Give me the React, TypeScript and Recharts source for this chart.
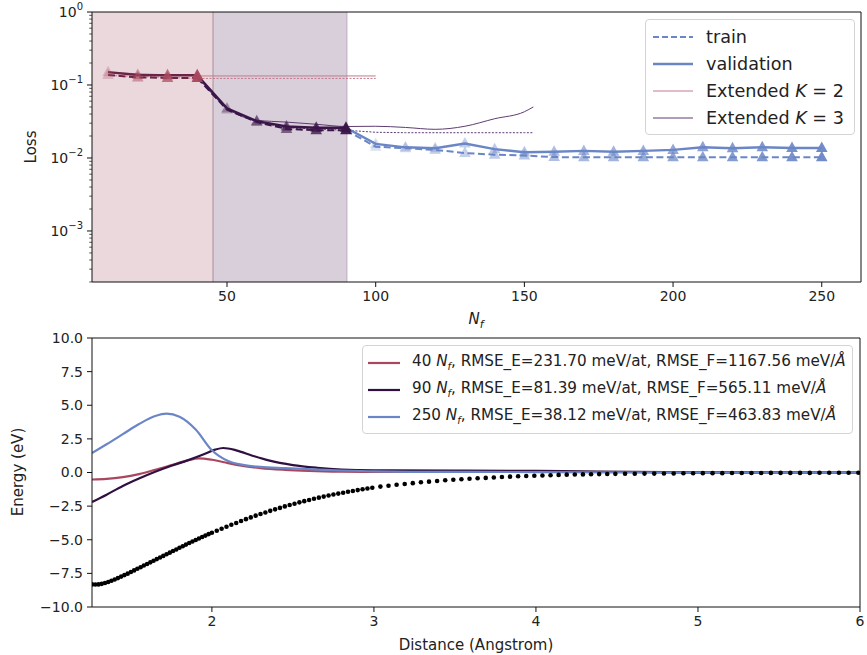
import { ComposedChart, Line, Scatter, XAxis, YAxis, ReferenceArea, ReferenceLine } from 'recharts'

const FONT = '"DejaVu Sans", Verdana, sans-serif'

// ---- top panel: loss vs N_f ----
const nfSeg1 = [10, 20, 30, 40]
const valSeg1 = [0.150, 0.137, 0.136, 0.136]
const trainSeg1 = [0.137, 0.127, 0.125, 0.125]

const nfSeg2 = [40, 50, 60, 70, 80, 90]
const valSeg2 = [0.136, 0.048, 0.032, 0.027, 0.026, 0.026]
const trainSeg2 = [0.125, 0.046, 0.031, 0.025, 0.024, 0.024]

const nfSeg3 = [90, 100, 110, 120, 130, 140, 150, 160, 170, 180, 190, 200, 210, 220, 230, 240, 250]
const valSeg3 = [0.026, 0.0156, 0.0140, 0.0136, 0.0158, 0.0132, 0.0120, 0.0122, 0.0125, 0.0122, 0.0125, 0.0129, 0.0140, 0.0136, 0.0140, 0.0137, 0.0137]
const trainSeg3 = [0.024, 0.0143, 0.0136, 0.0129, 0.0117, 0.0111, 0.0108, 0.0103, 0.0102, 0.0102, 0.0102, 0.0102, 0.0102, 0.0102, 0.0102, 0.0102, 0.0102]

const nfExt2 = [10, 40, 100]
const valExt2 = [0.148, 0.133, 0.133]
const trainExt2 = [0.135, 0.123, 0.123]

const nfExt3 = [40, 50, 60, 70, 80, 90, 100, 110, 120, 130, 140, 150, 153]
const valExt3 = [0.136, 0.048, 0.033, 0.031, 0.029, 0.027, 0.0272, 0.0262, 0.0247, 0.0272, 0.0345, 0.0430, 0.050]
const trainExt3 = [0.125, 0.046, 0.031, 0.026, 0.025, 0.024, 0.0225, 0.0222, 0.0222, 0.0222, 0.0222, 0.0222, 0.0222]

const nfTicks = [50, 100, 150, 200, 250]
const lossTicks = [
  0.0002, 0.0003, 0.0004, 0.0005, 0.0006, 0.0007, 0.0008, 0.0009,
  0.001, 0.002, 0.003, 0.004, 0.005, 0.006, 0.007, 0.008, 0.009,
  0.01, 0.02, 0.03, 0.04, 0.05, 0.06, 0.07, 0.08, 0.09,
  0.1, 0.2, 0.3, 0.4, 0.5, 0.6, 0.7, 0.8, 0.9, 1,
]

// ---- bottom panel: energy vs distance ----
const refDist = [
  1.26, 1.28, 1.30, 1.32, 1.34, 1.36, 1.38, 1.40, 1.42, 1.44, 1.46, 1.48, 1.50, 1.52, 1.54, 1.56, 1.58, 1.60,
  1.62, 1.64, 1.66, 1.68, 1.70, 1.72, 1.74, 1.76, 1.78, 1.80, 1.82, 1.84, 1.86, 1.88, 1.90, 1.92, 1.94, 1.96,
  1.98, 2.00, 2.03, 2.06, 2.09, 2.12, 2.15, 2.18, 2.21, 2.24, 2.27, 2.30, 2.33, 2.36, 2.39, 2.42, 2.45, 2.48,
  2.51, 2.54, 2.57, 2.60, 2.63, 2.66, 2.69, 2.72, 2.75, 2.78, 2.81, 2.84, 2.87, 2.90, 2.93, 2.96, 2.99, 3.04,
  3.09, 3.14, 3.19, 3.24, 3.29, 3.34, 3.39, 3.44, 3.49, 3.54, 3.59, 3.64, 3.69, 3.74, 3.79, 3.84, 3.89, 3.94,
  3.99, 4.04, 4.09, 4.14, 4.19, 4.24, 4.29, 4.34, 4.39, 4.44, 4.49, 4.55, 4.61, 4.67, 4.73, 4.79, 4.85, 4.91,
  4.97, 5.03, 5.09, 5.15, 5.21, 5.27, 5.33, 5.39, 5.45, 5.51, 5.57, 5.63, 5.69, 5.75, 5.81, 5.87, 5.93, 5.99,
]
const refEnergy = [
  -8.32, -8.33, -8.32, -8.28, -8.22, -8.14, -8.05, -7.95, -7.85, -7.74, -7.63, -7.52, -7.40, -7.28, -7.16, -7.04, -6.92, -6.80,
  -6.68, -6.56, -6.44, -6.32, -6.20, -6.08, -5.96, -5.84, -5.72, -5.60, -5.48, -5.36, -5.24, -5.13, -5.02, -4.91, -4.80, -4.69,
  -4.58, -4.48, -4.33, -4.18, -4.03, -3.89, -3.75, -3.61, -3.47, -3.34, -3.21, -3.09, -2.97, -2.85, -2.74, -2.63, -2.52, -2.42,
  -2.32, -2.22, -2.13, -2.04, -1.95, -1.87, -1.79, -1.71, -1.64, -1.57, -1.50, -1.43, -1.37, -1.31, -1.25, -1.19, -1.13, -1.05,
  -0.98, -0.91, -0.85, -0.79, -0.73, -0.68, -0.63, -0.58, -0.54, -0.50, -0.46, -0.43, -0.40, -0.37, -0.34, -0.31, -0.28, -0.26,
  -0.24, -0.22, -0.20, -0.18, -0.16, -0.15, -0.14, -0.13, -0.12, -0.11, -0.10, -0.09, -0.09, -0.08, -0.08, -0.07, -0.07, -0.06,
  -0.06, -0.05, -0.05, -0.05, -0.04, -0.04, -0.04, -0.04, -0.03, -0.03, -0.03, -0.03, -0.03, -0.02, -0.02, -0.02, -0.02, -0.02,
]

const dist40 = [1.26, 1.35, 1.45, 1.55, 1.65, 1.75, 1.85, 1.92, 2.0, 2.1, 2.2, 2.3, 2.45, 2.6, 2.8, 3.0, 3.5, 4.0, 4.5, 5.0, 6.0]
const energy40 = [-0.52, -0.48, -0.35, -0.12, 0.2, 0.55, 0.9, 1.05, 0.95, 0.7, 0.48, 0.33, 0.2, 0.12, 0.06, 0.04, 0.05, 0.04, 0.02, 0.0, 0.0]

const dist90 = [1.26, 1.35, 1.45, 1.55, 1.65, 1.75, 1.85, 1.95, 2.02, 2.07, 2.15, 2.25, 2.35, 2.5, 2.65, 2.8, 3.0, 3.5, 4.0, 4.4, 5.0, 6.0]
const energy90 = [-2.2, -1.65, -1.0, -0.45, 0.05, 0.5, 0.9, 1.35, 1.7, 1.82, 1.65, 1.25, 0.9, 0.55, 0.35, 0.22, 0.16, 0.15, 0.12, 0.06, 0.01, 0.0]

const dist250 = [1.26, 1.35, 1.45, 1.55, 1.65, 1.72, 1.8, 1.9, 2.0, 2.1, 2.2, 2.3, 2.45, 2.6, 2.8, 3.0, 3.3, 3.6, 4.0, 4.4, 5.0, 6.0]
const energy250 = [1.45, 2.1, 2.85, 3.6, 4.2, 4.38, 4.15, 3.2, 1.65, 0.85, 0.55, 0.42, 0.33, 0.25, 0.15, 0.08, 0.05, 0.05, 0.03, 0.02, 0.0, 0.0]

const distTicks = [2, 3, 4, 5, 6]
const energyTicks = [-10, -7.5, -5, -2.5, 0, 2.5, 5, 7.5, 10]

const legendRows = [
  { n: '40', e: '231.70', f: '1167.56' },
  { n: '90', e: '81.39', f: '565.11' },
  { n: '250', e: '38.12', f: '463.83' },
]

const RED = '#a8475e'
const DARK = '#2f1040'
const BLUE = '#6a86c6'
const SEG1_LINE = '#6b2446'
const SEG2_LINE = '#3a1548'

const rows = (xs: number[], ys: number[], kx: string, ky: string) =>
  xs.map((x, i) => ({ [kx]: x, [ky]: ys[i] }))

const triangle = (color: string, n: number, skipFirst: boolean) => (p: any) => {
  const { cx, cy, index } = p
  if ((skipFirst && index === 0) || cx == null) return <g key={index} />
  const start = skipFirst ? 1 : 0
  const t = n - 1 > start ? (index - start) / (n - 1 - start) : 1
  return (
    <path key={index} d={`M${cx},${cy - 6.5}L${cx + 5.8},${cy + 4}L${cx - 5.8},${cy + 4}Z`}
      fill={color} fillOpacity={0.25 + 0.7 * t} stroke="none" />
  )
}

const LogTick = ({ x, y, payload }: any) => {
  const v = payload.value
  const lg = Math.log10(v)
  const exp = Math.round(lg)
  const major = Math.abs(lg - exp) < 1e-6
  return (
    <g>
      <line x1={x} x2={x - (major ? 5 : 2.8)} y1={y} y2={y} stroke="#111" strokeWidth={major ? 1 : 0.7} />
      {major && (
        <text x={x - 9} y={y + 5} textAnchor="end" fontSize={14} fill="#222" fontFamily={FONT}>
          10<tspan dy={-7} fontSize={10}>{exp === 0 ? '0' : '\u2212' + Math.abs(exp)}</tspan>
        </text>
      )}
    </g>
  )
}

const fmtEnergy = (v: number) => (v < 0 ? '\u2212' : '') + Math.abs(v).toFixed(1)

const tickStyle = { fontSize: 14, fill: '#222', fontFamily: FONT }

const LineKey = ({ color, dash, width }: { color: string; dash?: string; width: number }) => (
  <svg width={40} height={10} style={{ display: 'block' }}>
    <line x1={0} x2={40} y1={5} y2={5} stroke={color} strokeWidth={width} strokeDasharray={dash} />
  </svg>
)

function TopPanel() {
  return (
    <div style={{ position: 'absolute', left: 0, top: 0, width: 867, height: 336 }}>
      <ComposedChart width={867} height={336} margin={{ top: 12, right: 6, left: 0, bottom: 0 }}>
        <XAxis type="number" dataKey="n" domain={[4.6, 263.2]} ticks={nfTicks} allowDataOverflow
          height={54} stroke="#111" tickSize={5} tick={tickStyle} tickMargin={4} interval={0} />
        <YAxis type="number" dataKey="v" scale="log" domain={[0.0002, 1]} ticks={lossTicks} allowDataOverflow
          width={92} stroke="#111" tickSize={0} tickMargin={0} tickLine={false} tick={<LogTick />} interval={0} />

        <ReferenceArea x1={4.6} x2={45.3} fill="#ebd8dd" fillOpacity={1} stroke="none" />
        <ReferenceArea x1={45.3} x2={90.3} fill="#d8cfda" fillOpacity={1} stroke="none" />
        <ReferenceLine x={45.3} stroke="#b497a8" strokeWidth={1.2} />
        <ReferenceLine x={90.3} stroke="#c2b3c6" strokeWidth={1.2} />
        <ReferenceLine y={1} stroke="#111" strokeWidth={1} />
        <ReferenceLine x={263.2} stroke="#111" strokeWidth={1} />

        {/* Extended K=2 */}
        <Line data={rows(nfExt2, valExt2, 'n', 'v')} dataKey="v" stroke="#c27b8d" strokeWidth={1}
          dot={false} isAnimationActive={false} />
        <Line data={rows(nfExt2, trainExt2, 'n', 'v')} dataKey="v" stroke="#c27b8d" strokeWidth={1}
          strokeDasharray="2 1.5" dot={false} isAnimationActive={false} />
        {/* Extended K=3 */}
        <Line type="monotone" data={rows(nfExt3, valExt3, 'n', 'v')} dataKey="v" stroke="#5e3d72" strokeWidth={1}
          dot={false} isAnimationActive={false} />
        <Line data={rows(nfExt3, trainExt3, 'n', 'v')} dataKey="v" stroke="#5e3d72" strokeWidth={1}
          strokeDasharray="2 1.5" dot={false} isAnimationActive={false} />

        {/* segment 3 */}
        <Line data={rows(nfSeg3, trainSeg3, 'n', 'v')} dataKey="v" stroke={BLUE} strokeWidth={2}
          strokeDasharray="7 3.5" dot={triangle(BLUE, nfSeg3.length, true)} isAnimationActive={false} />
        <Line data={rows(nfSeg3, valSeg3, 'n', 'v')} dataKey="v" stroke={BLUE} strokeWidth={2.4}
          dot={triangle(BLUE, nfSeg3.length, true)} isAnimationActive={false} />
        {/* segment 2 */}
        <Line data={rows(nfSeg2, trainSeg2, 'n', 'v')} dataKey="v" stroke={SEG2_LINE} strokeWidth={2}
          strokeDasharray="7 3.5" dot={triangle(SEG2_LINE, nfSeg2.length, true)} isAnimationActive={false} />
        <Line data={rows(nfSeg2, valSeg2, 'n', 'v')} dataKey="v" stroke={SEG2_LINE} strokeWidth={2.4}
          dot={triangle(SEG2_LINE, nfSeg2.length, true)} isAnimationActive={false} />
        {/* segment 1 */}
        <Line data={rows(nfSeg1, trainSeg1, 'n', 'v')} dataKey="v" stroke={SEG1_LINE} strokeWidth={2}
          strokeDasharray="7 3.5" dot={triangle(RED, nfSeg1.length, false)} isAnimationActive={false} />
        <Line data={rows(nfSeg1, valSeg1, 'n', 'v')} dataKey="v" stroke={SEG1_LINE} strokeWidth={2.4}
          dot={triangle(RED, nfSeg1.length, false)} isAnimationActive={false} />
      </ComposedChart>

      <div style={{ position: 'absolute', left: 31, top: 147, transform: 'translate(-50%, -50%) rotate(-90deg)', fontSize: 15, color: '#222' }}>
        Loss
      </div>
      <div style={{ position: 'absolute', left: 376, width: 200, top: 310, textAlign: 'center', fontSize: 15, color: '#222', fontStyle: 'italic' }}>
        N<sub style={{ fontSize: 11 }}>f</sub>
      </div>

      <div style={{
        position: 'absolute', left: 645, top: 19, width: 210, height: 116, boxSizing: 'border-box',
        border: '1px solid #d4d4d4', borderRadius: 4, background: 'rgba(255,255,255,0.85)', fontSize: 17.6, color: '#222',
        padding: '3px 0 0 7px',
      }}>
        {[
          { label: <>train</>, color: BLUE, dash: '6 3', w: 2 },
          { label: <>validation</>, color: BLUE, dash: undefined, w: 2.4 },
          { label: <>Extended <i>K</i> = 2</>, color: '#c27b8d', dash: undefined, w: 1 },
          { label: <>Extended <i>K</i> = 3</>, color: '#5e3d72', dash: undefined, w: 1 },
        ].map((r, i) => (
          <div key={i} style={{ display: 'flex', alignItems: 'center', height: 27 }}>
            <LineKey color={r.color} dash={r.dash} width={r.w} />
            <span style={{ marginLeft: 13 }}>{r.label}</span>
          </div>
        ))}
      </div>
    </div>
  )
}

function BottomPanel() {
  return (
    <div style={{ position: 'absolute', left: 0, top: 320, width: 867, height: 335 }}>
      <ComposedChart width={867} height={335} margin={{ top: 18, right: 7, left: 0, bottom: 0 }}>
        <XAxis type="number" dataKey="d" domain={[1.26, 6]} ticks={distTicks} allowDataOverflow
          height={48} stroke="#111" tickSize={5} tick={tickStyle} tickMargin={4} interval={0} />
        <YAxis type="number" dataKey="e" domain={[-10, 10]} ticks={energyTicks} allowDataOverflow
          width={92} stroke="#111" tickSize={5} tick={tickStyle} tickMargin={4} interval={0}
          tickFormatter={fmtEnergy} />
        <ReferenceLine y={10} stroke="#111" strokeWidth={1} />
        <ReferenceLine x={6} stroke="#111" strokeWidth={1} />

        <Scatter data={rows(refDist, refEnergy, 'd', 'e')} dataKey="e" fill="#000" isAnimationActive={false}
          shape={(p: any) => <circle cx={p.cx} cy={p.cy} r={2.3} fill="#000" />} />
        <Line type="monotone" data={rows(dist40, energy40, 'd', 'e')} dataKey="e" stroke={RED} strokeWidth={2.2}
          dot={false} isAnimationActive={false} />
        <Line type="monotone" data={rows(dist90, energy90, 'd', 'e')} dataKey="e" stroke={DARK} strokeWidth={2.2}
          dot={false} isAnimationActive={false} />
        <Line type="monotone" data={rows(dist250, energy250, 'd', 'e')} dataKey="e" stroke={BLUE} strokeWidth={2.2}
          dot={false} isAnimationActive={false} />
      </ComposedChart>

      <div style={{ position: 'absolute', left: 18, top: 152, transform: 'translate(-50%, -50%) rotate(-90deg)', fontSize: 15, color: '#222', whiteSpace: 'nowrap' }}>
        Energy (eV)
      </div>
      <div style={{ position: 'absolute', left: 326, width: 300, top: 316, textAlign: 'center', fontSize: 15, color: '#222' }}>
        Distance (Angstrom)
      </div>

      <div style={{
        position: 'absolute', left: 362, top: 25, width: 491, height: 89, boxSizing: 'border-box',
        border: '1px solid #d4d4d4', borderRadius: 4, background: 'rgba(255,255,255,0.85)', fontSize: 15.2, color: '#222',
        padding: '3px 0 0 5px',
      }}>
        {legendRows.map((r, i) => (
          <div key={i} style={{ display: 'flex', alignItems: 'center', height: 27, whiteSpace: 'nowrap' }}>
            <svg width={32} height={10} style={{ display: 'block' }}>
              <line x1={0} x2={32} y1={5} y2={5} stroke={[RED, DARK, BLUE][i]} strokeWidth={2.2} />
            </svg>
            <span style={{ marginLeft: 12 }}>
              {r.n} <i>N</i><sub style={{ fontSize: 10, fontStyle: 'italic' }}>f</sub>, RMSE_E={r.e} meV/at, RMSE_F={r.f} meV/<i>Å</i>
            </span>
          </div>
        ))}
      </div>
    </div>
  )
}

export default function App() {
  return (
    <div style={{ position: 'absolute', left: 0, top: 0, width: 867, height: 655, background: '#fff', fontFamily: FONT, overflow: 'hidden' }}>
      <TopPanel />
      <BottomPanel />
    </div>
  )
}
